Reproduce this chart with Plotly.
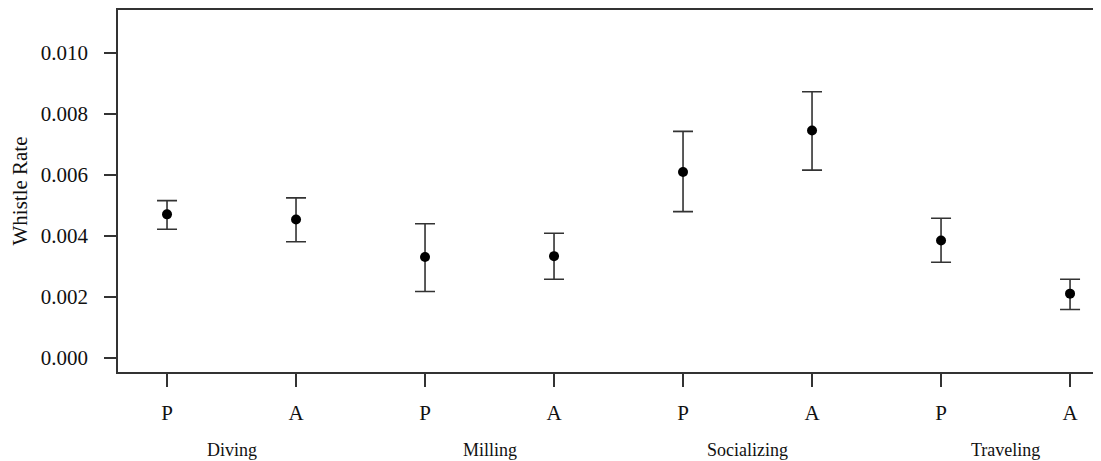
import plotly.graph_objects as go

behaviors = ["Diving", "Milling", "Socializing", "Traveling"]
groups = ["P", "A", "P", "A", "P", "A", "P", "A"]
means = [0.00471, 0.00454, 0.00331, 0.00334, 0.00610, 0.00746, 0.00385, 0.00211]
upper = [0.00516, 0.00525, 0.00440, 0.00409, 0.00743, 0.00873, 0.00458, 0.00258]
lower = [0.00422, 0.00381, 0.00218, 0.00258, 0.00480, 0.00616, 0.00314, 0.00159]
y_ticks = [0.000, 0.002, 0.004, 0.006, 0.008, 0.010]

positions = list(range(1, len(means) + 1))
err_plus = [u - m for u, m in zip(upper, means)]
err_minus = [m - l for m, l in zip(means, lower)]

FONT = "Liberation Serif, Times New Roman, serif"
AXC = "#333333"
TXT = "#111111"

fig = go.Figure()
fig.add_trace(go.Scatter(
    x=positions, y=means, mode="markers",
    marker=dict(color="black", size=10, symbol="circle"),
    error_y=dict(type="data", symmetric=False, array=err_plus, arrayminus=err_minus,
                 color=AXC, thickness=1.6, width=10),
    showlegend=False,
))

for i, b in enumerate(behaviors):
    fig.add_annotation(x=2 * i + 1.5, y=0, xref="x", yref="paper",
                       text=b, showarrow=False, yanchor="middle", yshift=-78,
                       font=dict(family=FONT, size=18, color=TXT))

# page body has an 8px margin, so the figure is shifted by 8px right/down
fig.update_layout(
    width=1093, height=453,
    margin=dict(l=110, r=0, t=2, b=89),
    paper_bgcolor="white", plot_bgcolor="white",
    font=dict(family=FONT, color=TXT),
    xaxis=dict(range=[0.62, 8.24], tickvals=positions, ticktext=groups,
               showgrid=False, zeroline=False, showline=True, mirror=True,
               linecolor=AXC, linewidth=1.6, ticks="outside", ticklen=13,
               tickwidth=1.6, tickcolor=AXC, tickfont=dict(size=21, family=FONT, color=TXT),
               ticklabelstandoff=8),
    yaxis=dict(range=[-0.000459, 0.01141], tickvals=y_ticks,
               tickformat=".3f", showgrid=False, zeroline=False, showline=True,
               linecolor=AXC, linewidth=1.6, ticks="outside", ticklen=12,
               tickwidth=1.6, tickcolor=AXC, tickfont=dict(size=21, family=FONT, color=TXT),
               ticklabelstandoff=12,
               title=dict(text="Whistle Rate", font=dict(size=21, family=FONT, color=TXT),
                          standoff=12)),
)

fig.write_html("out.html")
